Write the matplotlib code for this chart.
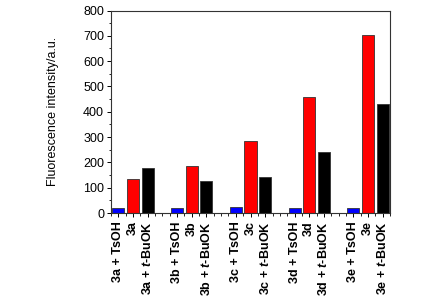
import matplotlib
matplotlib.use("Agg")
import matplotlib.pyplot as plt
import numpy as np
from matplotlib.ticker import MultipleLocator

plt.rcParams['font.family'] = ['Liberation Sans', 'DejaVu Sans']
plt.rcParams['mathtext.fontset'] = 'custom'
plt.rcParams['mathtext.rm'] = 'Liberation Sans'
plt.rcParams['mathtext.it'] = 'Liberation Sans:italic'
plt.rcParams['mathtext.bf'] = 'Liberation Sans:bold'
plt.rcParams['mathtext.bfit'] = 'Liberation Sans:bold:italic'

compounds = ['3a', '3b', '3c', '3d', '3e']
tsoh = [20, 20, 22, 20, 19]
neutral = [135, 185, 285, 458, 704]
buok = [176, 127, 143, 241, 429]

series_colors = ['#0000ff', '#ff0000', '#000000']

fig = plt.figure(figsize=(4.25, 3.05), dpi=100)
ax = fig.add_axes([111/425, 1 - 213/305, 279/425, (213 - 10.5)/305])

positions, heights, colors, labels = [], [], [], []
for i, c in enumerate(compounds):
    base = i * 4
    vals = [tsoh[i], neutral[i], buok[i]]
    labs = [f'{c} + TsOH', c, f'{c} + $\\mathbfit{{t}}$-BuOK']
    for j in range(3):
        positions.append(base + j)
        heights.append(vals[j])
        colors.append(series_colors[j])
        labels.append(labs[j])

ax.bar(positions, heights, width=0.82, color=colors, edgecolor='#333333', linewidth=0.6)

ax.set_xlim(-0.5, 18.5)
ax.set_ylim(0, 800)
ax.set_xticks(positions)
ax.set_xticklabels(labels, rotation=90, fontsize=9, fontweight='bold')
ax.xaxis.set_minor_locator(MultipleLocator(0.5))
ax.yaxis.set_major_locator(MultipleLocator(100))
ax.yaxis.set_minor_locator(MultipleLocator(50))
ax.tick_params(axis='both', which='major', direction='out', length=3, width=0.7, labelsize=9, pad=2)
ax.tick_params(axis='x', which='major', pad=3)
ax.tick_params(axis='both', which='minor', direction='out', length=1.8, width=0.6)
ax.tick_params(top=False, right=False)
ax.set_ylabel('Fluorescence intensity/a.u.', fontsize=9, labelpad=17)
for s in ax.spines.values():
    s.set_linewidth(0.8)
    s.set_color('#333333')

fig.savefig('out.png', dpi=100)
